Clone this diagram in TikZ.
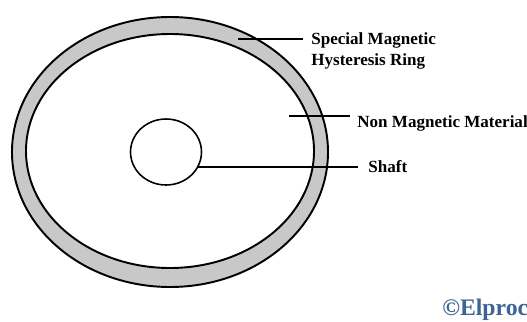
\documentclass[tikz,border=0pt]{standalone}
\usepackage{fontspec}
\setmainfont{Liberation Serif}
\usetikzlibrary{positioning,calc,shapes.geometric}
\definecolor{ringgray}{RGB}{200,200,200}
\definecolor{markblue}{RGB}{60,100,150}

\begin{document}
\begin{tikzpicture}[x=0.02cm,y=-0.02cm, every node/.style={font=\fontsize{9.7}{11.4}\selectfont\bfseries,inner sep=0pt,align=left}]
\useasboundingbox (0,0) rectangle (527,321);
% ring and body
\draw[line width=1.1pt,fill=ringgray] (170,152) ellipse [x radius=158, y radius=135];
\draw[line width=1.1pt,fill=white] (170,151) ellipse [x radius=144, y radius=117];
\node[draw,line width=0.9pt,ellipse,minimum width=1.42cm,minimum height=1.32cm] (shaft) at (166,152) {};
% labels
\node[anchor=base west] (ringlbl) at (311,65) {Special Magnetic\\Hysteresis Ring};
\node[anchor=base west] (matlbl) at (357,127) {Non Magnetic Material};
\node[anchor=base west] (shaftlbl) at (368,172) {Shaft};
\node[anchor=base west,font=\fontsize{13.5}{15}\selectfont\bfseries,text=markblue] (mark) at (442,315) {©Elproc};
% leaders
\coordinate (r1) at (238,39);
\coordinate (m1) at (289,116);
\draw[line width=1.1pt] (r1) -- ($(r1 -| ringlbl.west)+(-8,0)$);
\draw[line width=1.1pt] (m1) -- ($(m1 -| matlbl.west)+(-7,0)$);
\draw[line width=1.1pt] (shaft.-25) -- ($(shaft.-25 -| shaftlbl.west)+(-10,0)$);
\end{tikzpicture}
\end{document}
